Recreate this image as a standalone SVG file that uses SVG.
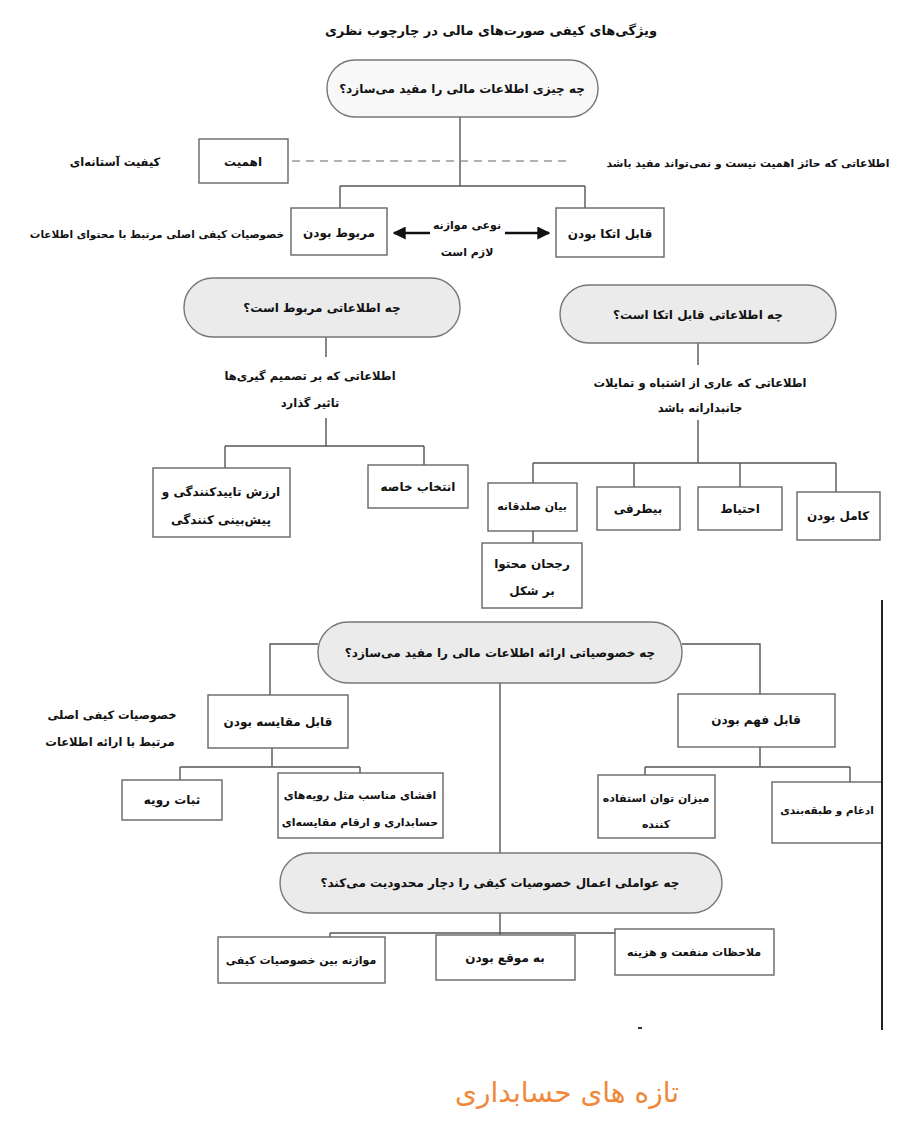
<svg xmlns="http://www.w3.org/2000/svg" width="899" height="1141" viewBox="0 0 899 1141">
<defs>
<style>
.t{font-family:"DejaVu Sans",sans-serif;font-size:12px;font-weight:bold;fill:#111;text-anchor:middle;direction:rtl}
.s{font-size:11px}
.lbl{font-family:"DejaVu Sans",sans-serif;font-size:11.5px;font-weight:bold;fill:#111;text-anchor:middle;direction:rtl}
.box{fill:#fff;stroke:#666;stroke-width:1.4}
.pill{fill:#ebebeb;stroke:#777;stroke-width:1.4}
.ln{fill:none;stroke:#555;stroke-width:1.4}
.wm{font-family:"DejaVu Sans",sans-serif;font-size:28px;fill:#f0883a;text-anchor:middle;direction:rtl}
</style>
<marker id="ah" viewBox="0 0 10 10" refX="9" refY="5" markerWidth="5" markerHeight="5" orient="auto-start-reverse" markerUnits="strokeWidth">
<path d="M0,0 L10,5 L0,10 z" fill="#111"/>
</marker>
</defs>
<rect width="899" height="1141" fill="#fff"/>
<text class="t" x="491" y="35" style="font-size:13px">ویژگی‌های کیفی صورت‌های مالی در چارچوب نظری</text>

<g id="connectors">
<path class="ln" d="M460,117 V186 M340,186 H585 M340,186 V208 M585,186 V208"/>
<line x1="292" y1="161" x2="572" y2="161" stroke="#999" stroke-width="1.4" stroke-dasharray="8 6"/>
<line x1="430" y1="233" x2="394" y2="233" stroke="#111" stroke-width="2.6" marker-end="url(#ah)"/>
<line x1="505" y1="233" x2="549" y2="233" stroke="#111" stroke-width="2.6" marker-end="url(#ah)"/>
<path class="ln" d="M326,337 V357 M326,418 V446 M225,446 H424 M225,446 V468 M424,446 V465"/>
<path class="ln" d="M698,343 V365 M698,420 V463 M533,463 H836 M533,463 V483 M634,463 V487 M740,463 V487 M836,463 V492 M533,531 V543"/>
<path class="ln" d="M318,644 H270 V695 M682,644 H760 V694 M500,683 V853"/>
<path class="ln" d="M272,748 V767 M180,767 H360 M180,767 V780 M360,767 V773"/>
<path class="ln" d="M760,747 V767 M645,767 H850 M645,767 V775 M850,767 V782"/>
<path class="ln" d="M500,913 V933 M330,933 H680 M330,933 V937 M500,933 V935 M680,933 V929"/>
</g>

<g id="n-q1"><rect class="pill" x="327" y="60" width="271" height="57" rx="28" style="fill:#f8f8f8"/><text class="t" x="462" y="93">چه چیزی اطلاعات مالی را مفید می‌سازد؟</text></g>

<g id="n-ahamiyat"><rect class="box" x="199" y="139" width="89" height="44"/><text class="t" x="243" y="166">اهمیت</text></g>
<g id="l-threshold"><text class="lbl" x="115" y="166">کیفیت آستانه‌ای</text></g>
<g id="l-notmaterial"><text class="lbl" x="748" y="167" style="font-size:10.8px">اطلاعاتی که حائز اهمیت نیست و نمی‌تواند مفید باشد</text></g>

<g id="n-relevance"><rect class="box" x="291" y="208" width="96" height="47"/><text class="t" x="339" y="237">مربوط بودن</text></g>
<g id="n-reliability"><rect class="box" x="556" y="208" width="108" height="49"/><text class="t" x="610" y="238">قابل اتکا بودن</text></g>
<g id="l-content"><text class="lbl" x="157" y="238" style="font-size:10.5px">خصوصیات کیفی اصلی مرتبط با محتوای اطلاعات</text></g>
<g id="l-tradeoff"><text class="lbl" x="467" y="229" style="font-size:11px">نوعی موازنه</text><text class="lbl" x="467" y="256" style="font-size:11px">لازم است</text></g>

<g id="n-q2"><rect class="pill" x="184" y="278" width="276" height="59" rx="29"/><text class="t" x="322" y="312">چه اطلاعاتی مربوط است؟</text></g>
<g id="n-q3"><rect class="pill" x="560" y="285" width="276" height="58" rx="29"/><text class="t" x="698" y="319">چه اطلاعاتی قابل اتکا است؟</text></g>

<g id="l-decision"><text class="lbl" x="310" y="380">اطلاعاتی که بر تصمیم گیری‌ها</text><text class="lbl" x="310" y="407">تاثیر گذارد</text></g>
<g id="l-free"><text class="lbl" x="700" y="387">اطلاعاتی که عاری از اشتباه و تمایلات</text><text class="lbl" x="700" y="412">جانبدارانه باشد</text></g>

<g id="n-select"><rect class="box" x="368" y="465" width="100" height="43"/><text class="t" x="418" y="491">انتخاب خاصه</text></g>
<g id="n-confirm"><rect class="box" x="153" y="468" width="137" height="69"/><text class="t" x="221" y="496">ارزش تاییدکنندگی و</text><text class="t" x="221" y="524">پیش‌بینی کنندگی</text></g>

<g id="n-faithful"><rect class="box" x="488" y="483" width="89" height="48"/><text class="t s" x="532" y="510">بیان صلدقانه</text></g>
<g id="n-neutral"><rect class="box" x="597" y="487" width="83" height="43"/><text class="t" x="638" y="513">بیطرفی</text></g>
<g id="n-prudence"><rect class="box" x="698" y="487" width="84" height="43"/><text class="t" x="740" y="513">احتیاط</text></g>
<g id="n-complete"><rect class="box" x="797" y="492" width="83" height="48"/><text class="t" x="838" y="520">کامل بودن</text></g>
<g id="n-substance"><rect class="box" x="482" y="543" width="100" height="65"/><text class="t" x="532" y="568">رجحان محتوا</text><text class="t" x="532" y="595">بر شکل</text></g>

<g id="n-q4"><rect class="pill" x="318" y="622" width="364" height="61" rx="30"/><text class="t" x="500" y="657">چه خصوصیاتی ارائه اطلاعات مالی را مفید می‌سازد؟</text></g>

<g id="n-comparable"><rect class="box" x="208" y="695" width="140" height="53"/><text class="t" x="278" y="726">قابل مقایسه بودن</text></g>
<g id="l-presentation"><text class="lbl" x="112" y="719">خصوصیات کیفی اصلی</text><text class="lbl" x="110" y="746">مرتبط با ارائه اطلاعات</text></g>
<g id="n-understand"><rect class="box" x="678" y="694" width="157" height="53"/><text class="t" x="756" y="724">قابل فهم بودن</text></g>

<g id="n-consistency"><rect class="box" x="122" y="780" width="100" height="40"/><text class="t" x="172" y="804">ثبات رویه</text></g>
<g id="n-disclosure"><rect class="box" x="278" y="773" width="165" height="65"/><text class="t s" x="360" y="799">افشای مناسب مثل رویه‌های</text><text class="t s" x="360" y="826">حسابداری و ارقام مقایسه‌ای</text></g>
<g id="n-user"><rect class="box" x="598" y="775" width="117" height="63"/><text class="t s" x="656" y="802">میزان توان استفاده</text><text class="t s" x="656" y="828">کننده</text></g>
<g id="n-classify"><rect class="box" x="772" y="782" width="110" height="61"/><text class="t" x="827" y="814" style="font-size:10.5px">ادغام و طبقه‌بندی</text></g>

<g id="n-q5"><rect class="pill" x="280" y="853" width="442" height="60" rx="30"/><text class="t" x="500" y="887">چه عواملی اعمال خصوصیات کیفی را دچار محدودیت می‌کند؟</text></g>

<g id="n-balance"><rect class="box" x="218" y="937" width="167" height="46"/><text class="t s" x="301" y="964">موازنه بین خصوصیات کیفی</text></g>
<g id="n-timely"><rect class="box" x="436" y="935" width="139" height="45"/><text class="t" x="505" y="962">به موقع بودن</text></g>
<g id="n-costbenefit"><rect class="box" x="615" y="929" width="159" height="46"/><text class="t s" x="694" y="956">ملاحظات منفعت و هزینه</text></g>

<line x1="882" y1="600" x2="882" y2="1030" stroke="#222" stroke-width="2"/>
<rect x="638" y="1027" width="4" height="2" fill="#333"/>

<text class="wm" x="567" y="1102">تازه های حسابداری</text>
</svg>
